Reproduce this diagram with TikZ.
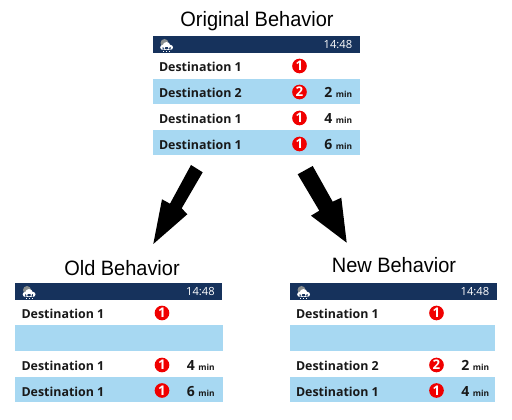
\documentclass[tikz,border=0pt]{standalone}
\usepackage{fontspec}
\setmainfont{Open Sans}
\newfontfamily\titlefont{Liberation Sans}
\definecolor{navy}{HTML}{16325C}
\definecolor{rowblue}{HTML}{A7D8F2}
\definecolor{badgered}{HTML}{F00000}
\definecolor{sungray}{HTML}{8A8F8F}
\tikzset{
  x=0.75pt,y=-0.75pt,
  titletext/.style={font=\titlefont\fontsize{15.6}{18}\selectfont,text=black,inner sep=0pt,anchor=base,xscale=0.96},
  desttext/.style={font=\bfseries\fontsize{9.3}{12}\selectfont,text=black!90,inner sep=0pt,anchor=base west},
  clocktext/.style={font=\fontsize{8.4}{10}\selectfont,text=white,inner sep=0pt,anchor=base east},
  waittext/.style={text=black!90,inner sep=0pt,anchor=base east},
  badgedot/.style={circle,fill=badgered,minimum size=11pt,inner sep=0pt,text=white,font=\bfseries\fontsize{10}{10}\selectfont},
  bluerow/.style={fill=rowblue,draw=none},
  navybar/.style={fill=navy,draw=none}
}
% #1 row top, #2 label, #3 badge
\newcommand{\rowcontent}[3]{%
  \node[desttext] at (6.3,#1+18.6) {#2};
  \node[badgedot] at (147,#1+13) {#3};
}
% #1 row top, #2 wait number
\newcommand{\rowwait}[2]{%
  \node[waittext] at (200,#1+18.8) {\bfseries\fontsize{10.5}{12}\selectfont #2\hspace{2.6pt}\fontsize{6.3}{9}\selectfont min};
}
\newcommand{\headerbar}{%
  \fill[navybar] (0,0) rectangle (207,17);
  \fill[sungray] (12,7) circle (4);
  \fill[white] (10.2,11.4) circle (2.5) (14,9.8) circle (3.8) (18,11.4) circle (2.5) (10.2,11) rectangle (18,13.9);
  \foreach \p in {10.5,13.5,16.5}{\fill[white] (\p,14.8) rectangle (\p+0.9,16);}
  \node[clocktext] at (200,13) {14:48};
}
\begin{document}
\begin{tikzpicture}
\useasboundingbox (0,0) rectangle (512,420);
\fill[white] (0,0) rectangle (512,420);
\node[titletext] (t0) at (257,27) {Original Behavior};
\node[titletext] (t1) at (122,276) {Old Behavior};
\node[titletext] (t2) at (394,273) {New Behavior};
% original
\begin{scope}[shift={(152.5,36)}]
  \headerbar
  \fill[bluerow] (0,43) rectangle (207,68.5);
  \fill[bluerow] (0,94.5) rectangle (207,119.5);
  \rowcontent{17}{Destination 1}{1}
  \rowcontent{43}{Destination 2}{2}
  \rowwait{43}{2}
  \rowcontent{69}{Destination 1}{1}
  \rowwait{69}{4}
  \rowcontent{95}{Destination 1}{1}
  \rowwait{95}{6}
\end{scope}
% old
\begin{scope}[shift={(15,283)}]
  \headerbar
  \fill[bluerow] (0,42.5) rectangle (207.5,68);
  \fill[bluerow] (0,94) rectangle (207.5,119.5);
  \rowcontent{17}{Destination 1}{1}
  \rowcontent{69}{Destination 1}{1}
  \rowwait{69}{4}
  \rowcontent{94.5}{Destination 1}{1}
  \rowwait{94.5}{6}
\end{scope}
% new
\begin{scope}[shift={(289.5,283)}]
  \headerbar
  \fill[bluerow] (0,42.5) rectangle (205.5,68);
  \fill[bluerow] (0,94) rectangle (205.5,119.5);
  \rowcontent{17}{Destination 1}{1}
  \rowcontent{69}{Destination 2}{2}
  \rowwait{69}{2}
  \rowcontent{94.5}{Destination 1}{1}
  \rowwait{94.5}{4}
\end{scope}
% arrows
\fill[black] (191,165) -- (202.7,172.3) -- (181.7,208.3) -- (187.3,214.3) -- (153.3,244) -- (162,199.3) -- (170,203.7) -- cycle;
\fill[black] (297.7,174.3) -- (312.7,166) -- (332.7,201.7) -- (341.3,197.7) -- (346.7,242.7) -- (311,215.7) -- (319.3,210.7) -- cycle;
\end{tikzpicture}
\end{document}
